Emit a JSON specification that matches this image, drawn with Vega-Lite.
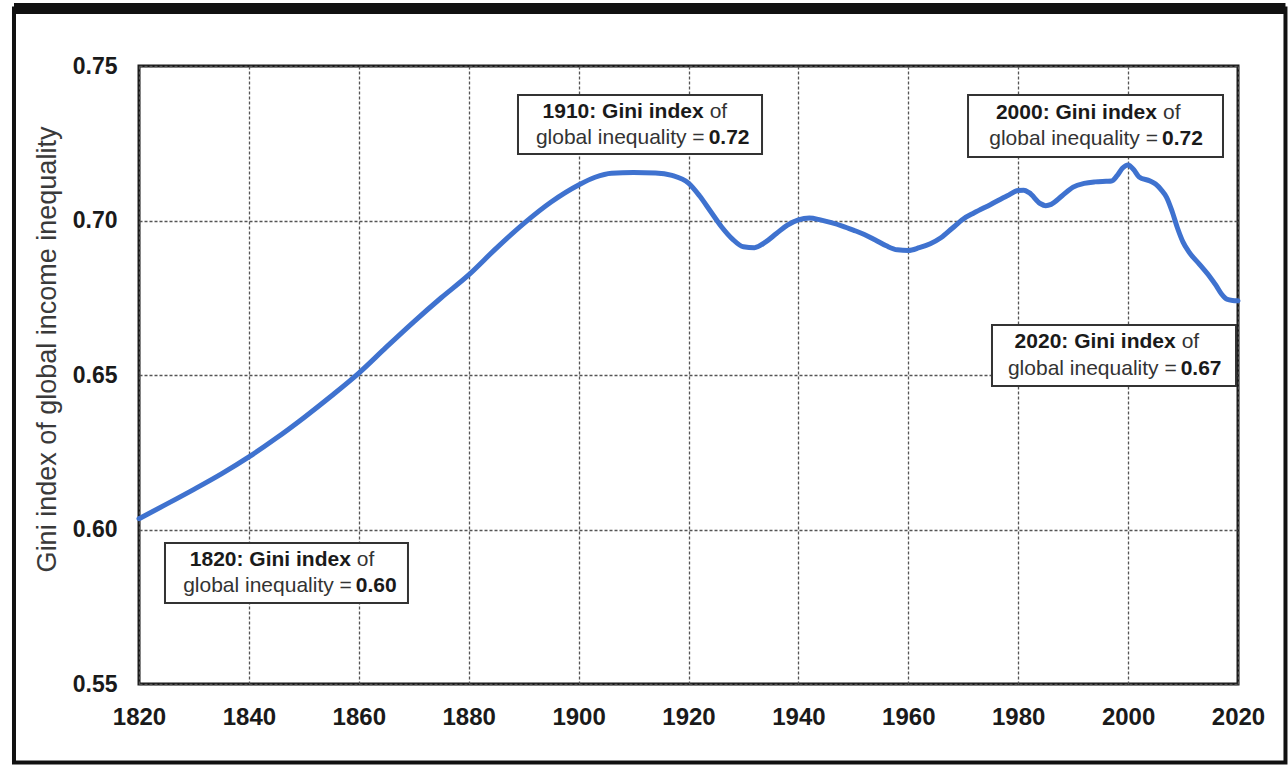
{
  "$schema": "https://vega.github.io/schema/vega-lite/v6.json",
  "width": 1099,
  "height": 618,
  "autosize": {"type": "none"},
  "padding": {"left": 139, "top": 66, "right": 50, "bottom": 83},
  "background": "white",
  "config": {
    "view": {"stroke": "#1a1a1a", "strokeWidth": 3},
    "font": "Liberation Sans, Arial, sans-serif"
  },
  "resolve": {"axis": {"x": "independent", "y": "independent"}},
  "layer": [
    {
      "data": {"values": [
        {"year": 1820, "gini": 0.6035}, {"year": 1825, "gini": 0.6082}, {"year": 1830, "gini": 0.6130},
        {"year": 1835, "gini": 0.6180}, {"year": 1840, "gini": 0.6235}, {"year": 1845, "gini": 0.6296},
        {"year": 1850, "gini": 0.6362}, {"year": 1855, "gini": 0.6432}, {"year": 1860, "gini": 0.6506},
        {"year": 1865, "gini": 0.6590}, {"year": 1870, "gini": 0.6672}, {"year": 1875, "gini": 0.6750},
        {"year": 1880, "gini": 0.6824}, {"year": 1885, "gini": 0.6910}, {"year": 1890, "gini": 0.6990},
        {"year": 1895, "gini": 0.7060}, {"year": 1900, "gini": 0.7115}, {"year": 1903, "gini": 0.7140},
        {"year": 1906, "gini": 0.7153}, {"year": 1910, "gini": 0.7155}, {"year": 1914, "gini": 0.7154},
        {"year": 1917, "gini": 0.7146}, {"year": 1920, "gini": 0.7121}, {"year": 1922, "gini": 0.7080},
        {"year": 1924, "gini": 0.7030}, {"year": 1926, "gini": 0.6980}, {"year": 1928, "gini": 0.6940},
        {"year": 1930, "gini": 0.6915}, {"year": 1932, "gini": 0.6912}, {"year": 1934, "gini": 0.6930},
        {"year": 1936, "gini": 0.6958}, {"year": 1938, "gini": 0.6985}, {"year": 1940, "gini": 0.7002},
        {"year": 1942, "gini": 0.7008}, {"year": 1944, "gini": 0.7002}, {"year": 1946, "gini": 0.6993},
        {"year": 1948, "gini": 0.6982}, {"year": 1950, "gini": 0.6969}, {"year": 1952, "gini": 0.6955},
        {"year": 1954, "gini": 0.6937}, {"year": 1956, "gini": 0.6918}, {"year": 1958, "gini": 0.6905},
        {"year": 1960, "gini": 0.6903}, {"year": 1962, "gini": 0.6912}, {"year": 1964, "gini": 0.6925},
        {"year": 1966, "gini": 0.6945}, {"year": 1968, "gini": 0.6975}, {"year": 1970, "gini": 0.7005},
        {"year": 1972, "gini": 0.7025}, {"year": 1975, "gini": 0.7052}, {"year": 1978, "gini": 0.7080},
        {"year": 1980, "gini": 0.7097}, {"year": 1981, "gini": 0.7098}, {"year": 1982, "gini": 0.7090},
        {"year": 1984, "gini": 0.7055}, {"year": 1985, "gini": 0.7048}, {"year": 1986, "gini": 0.7052},
        {"year": 1988, "gini": 0.7080}, {"year": 1990, "gini": 0.7108}, {"year": 1992, "gini": 0.7120},
        {"year": 1994, "gini": 0.7125}, {"year": 1996, "gini": 0.7127}, {"year": 1997, "gini": 0.7128},
        {"year": 1998, "gini": 0.7145}, {"year": 1999, "gini": 0.7170}, {"year": 2000, "gini": 0.7180},
        {"year": 2001, "gini": 0.7165}, {"year": 2002, "gini": 0.7141}, {"year": 2004, "gini": 0.7128},
        {"year": 2005, "gini": 0.7118}, {"year": 2006, "gini": 0.7100}, {"year": 2007, "gini": 0.7075},
        {"year": 2008, "gini": 0.7030}, {"year": 2009, "gini": 0.6975}, {"year": 2010, "gini": 0.6930},
        {"year": 2011, "gini": 0.6900}, {"year": 2013, "gini": 0.6858}, {"year": 2015, "gini": 0.6815},
        {"year": 2016, "gini": 0.6790}, {"year": 2017, "gini": 0.6762}, {"year": 2018, "gini": 0.6745},
        {"year": 2019, "gini": 0.6741}, {"year": 2020, "gini": 0.6740}
      ]},
      "mark": {"type": "line", "color": "#3f72cf", "strokeWidth": 5, "interpolate": "monotone", "strokeCap": "round"},
      "encoding": {
        "x": {
          "field": "year", "type": "quantitative",
          "scale": {"domain": [1820, 2020], "nice": false, "zero": false},
          "axis": {
            "values": [1820, 1840, 1860, 1880, 1900, 1920, 1940, 1960, 1980, 2000, 2020],
            "format": "d", "title": null,
            "labelFontSize": 24, "labelFontWeight": "bold", "labelColor": "#1a1a1a",
            "labelPadding": 21, "ticks": false, "tickSize": 0, "domain": false,
            "labelFlush": false, "labelOverlap": false,
            "grid": true, "gridColor": "#555555", "gridDash": [3, 2], "gridWidth": 1.3
          }
        },
        "y": {
          "field": "gini", "type": "quantitative",
          "scale": {"domain": [0.55, 0.75], "nice": false, "zero": false},
          "axis": {
            "values": [0.55, 0.6, 0.65, 0.7, 0.75],
            "format": ".2f",
            "title": "Gini index of global income inequality",
            "titleFontSize": 27, "titleFontWeight": "normal", "titleColor": "#3a3a3a",
            "titleX": -92, "titleY": 283, "titleBaseline": "middle", "titleAlign": "center", "titleAngle": -90,
            "labelFontSize": 23, "labelFontWeight": "bold", "labelColor": "#1a1a1a",
            "labelPadding": 22, "ticks": false, "tickSize": 0, "domain": false,
            "labelFlush": false, "labelOverlap": false,
            "grid": true, "gridColor": "#555555", "gridDash": [3, 2], "gridWidth": 1.3
          }
        }
      }
    },
    {
      "data": {"values": [{}]},
      "mark": {"type": "rect", "fill": null, "stroke": "#111111", "strokeWidth": 4, "clip": false},
      "encoding": {
        "x": {"datum": 1797.25, "type": "quantitative", "axis": null},
        "x2": {"datum": 2028.64},
        "y": {"datum": 0.76861, "type": "quantitative", "axis": null},
        "y2": {"datum": 0.5246}
      }
    },
    {
      "data": {"values": [{}]},
      "mark": {"type": "rule", "stroke": "#111111", "strokeWidth": 11, "clip": false},
      "encoding": {
        "x": {"datum": 1797.25, "type": "quantitative", "axis": null},
        "x2": {"datum": 2028.64},
        "y": {"datum": 0.76861, "type": "quantitative", "axis": null}
      }
    },
    {
      "data": {"values": [
        {"x1": 1888.97, "x2": 1933.38, "y1": 0.74061, "y2": 0.72152},
        {"x1": 1970.87, "x2": 2017.27, "y1": 0.74061, "y2": 0.72055},
        {"x1": 1975.23, "x2": 2019.64, "y1": 0.66618, "y2": 0.64644},
        {"x1": 1824.73, "x2": 1868.95, "y1": 0.59563, "y2": 0.57621}
      ]},
      "mark": {"type": "rect", "fill": "white", "stroke": "#333333", "strokeWidth": 2},
      "encoding": {
        "x": {"field": "x1", "type": "quantitative", "axis": null},
        "x2": {"field": "x2"},
        "y": {"field": "y1", "type": "quantitative", "axis": null},
        "y2": {"field": "y2"}
      }
    },
    {
      "data": {"values": [
        {"sx": 1923.3, "ly1": 0.73527, "ly2": 0.72686, "head": "1910: Gini index", "val": "0.72"},
        {"sx": 2005.8, "ly1": 0.73479, "ly2": 0.72638, "head": "2000: Gini index", "val": "0.72"},
        {"sx": 2009.2, "ly1": 0.66052, "ly2": 0.65210, "head": "2020: Gini index", "val": "0.67"},
        {"sx": 1859.1, "ly1": 0.59013, "ly2": 0.58172, "head": "1820: Gini index", "val": "0.60"}
      ]},
      "layer": [
        {
          "mark": {"type": "text", "align": "right", "baseline": "middle", "dx": -3, "fontSize": 21, "fontWeight": "bold", "color": "#1a1a1a"},
          "encoding": {
            "x": {"field": "sx", "type": "quantitative", "axis": null},
            "y": {"field": "ly1", "type": "quantitative", "axis": null},
            "text": {"field": "head"}
          }
        },
        {
          "mark": {"type": "text", "align": "left", "baseline": "middle", "dx": 3, "fontSize": 21, "fontWeight": "normal", "color": "#333333", "text": "of"},
          "encoding": {
            "x": {"field": "sx", "type": "quantitative", "axis": null},
            "y": {"field": "ly1", "type": "quantitative", "axis": null}
          }
        },
        {
          "mark": {"type": "text", "align": "right", "baseline": "middle", "dx": -2, "fontSize": 21, "fontWeight": "normal", "color": "#333333", "text": "global inequality ="},
          "encoding": {
            "x": {"field": "sx", "type": "quantitative", "axis": null},
            "y": {"field": "ly2", "type": "quantitative", "axis": null}
          }
        },
        {
          "mark": {"type": "text", "align": "left", "baseline": "middle", "dx": 2, "fontSize": 21, "fontWeight": "bold", "color": "#1a1a1a"},
          "encoding": {
            "x": {"field": "sx", "type": "quantitative", "axis": null},
            "y": {"field": "ly2", "type": "quantitative", "axis": null},
            "text": {"field": "val"}
          }
        }
      ]
    }
  ]
}
